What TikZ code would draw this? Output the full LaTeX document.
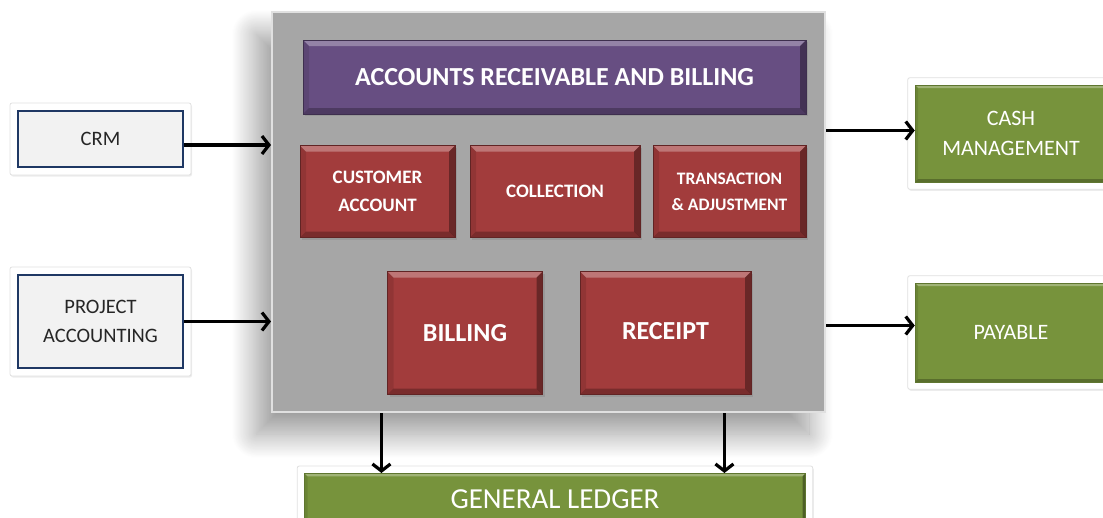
\documentclass[tikz,border=0pt]{standalone}
\usepackage{fontspec}
\setmainfont{Carlito}
\usetikzlibrary{arrows.meta,shadows,shadows.blur,calc}
\pgfdeclarelayer{background}
\pgfsetlayers{background,main}

\definecolor{panelgray}{RGB}{166,166,166}
\definecolor{arbpurple}{RGB}{103,78,130}
\definecolor{modred}{RGB}{162,60,60}
\definecolor{extgreen}{RGB}{119,147,60}
\definecolor{inblue}{RGB}{31,56,100}
\definecolor{inwhite}{RGB}{242,242,242}
\definecolor{txtgray}{RGB}{38,38,38}

\tikzset{
  bevel/.style={path picture={
    \path (path picture bounding box.north west) coordinate (bnw)
          (path picture bounding box.north east) coordinate (bne)
          (path picture bounding box.south west) coordinate (bsw)
          (path picture bounding box.south east) coordinate (bse);
    \fill[white,opacity=.3] (bnw) -- (bne) -- ([xshift=-#1,yshift=-#1]bne) -- ([xshift=#1,yshift=-#1]bnw) -- cycle;
    \fill[black,opacity=.35] (bne) -- (bse) -- ([xshift=-#1,yshift=#1]bse) -- ([xshift=-#1,yshift=-#1]bne) -- cycle;
    \fill[black,opacity=.25] (bsw) -- (bse) -- ([xshift=-#1,yshift=#1]bse) -- ([xshift=#1,yshift=#1]bsw) -- cycle;
    \fill[black,opacity=.1] (bnw) -- (bsw) -- ([xshift=#1,yshift=#1]bsw) -- ([xshift=#1,yshift=-#1]bnw) -- cycle;
  }},
  bevel/.default=6pt,
  module/.style={fill=modred, draw=modred!60!black, line width=.5pt, bevel,
    drop shadow={shadow xshift=2pt,shadow yshift=-2pt,opacity=.35},
    text=white, align=center, inner sep=0pt},
  extbox/.style={fill=extgreen, draw=extgreen!80!black, line width=.5pt, bevel=3pt,
    text=white, align=center, inner sep=0pt, font=\fontsize{22}{30}\selectfont},
  inbox/.style={fill=inwhite, draw=inblue, line width=2pt, text=txtgray,
    align=center, inner sep=0pt, font=\fontsize{20.5}{29}\selectfont},
  frame/.style={draw=black!12, fill=white, rounded corners=2pt, line width=.8pt,
    drop shadow={shadow xshift=1pt,shadow yshift=-1.5pt,opacity=.15}},
  flow/.style={line width=3.2pt, -{Straight Barb[length=7pt,width=18pt]}}
}

\begin{document}
\begin{tikzpicture}[x=1pt,y=-1pt]
\useasboundingbox (0,0) rectangle (1103,517);

% main block
\node[fill=panelgray, draw=black!12, line width=2pt, minimum width=553pt, minimum height=400pt,
  blur shadow={shadow xshift=-16pt,shadow yshift=-22pt,shadow blur radius=24pt,
    shadow blur steps=30,shadow opacity=40}]
  (panel) at (548.5,212) {};
\node[fill=arbpurple, draw=arbpurple!60!black, line width=.5pt, bevel=6pt, text=white,
  minimum width=503pt, minimum height=74pt, inner sep=0pt,
  drop shadow={shadow xshift=2pt,shadow yshift=-2pt,opacity=.35},
  font=\bfseries\fontsize{26}{30}\selectfont]
  (arb) at (554.5,77) {ACCOUNTS RECEIVABLE AND BILLING};

% modules
\node[module, minimum width=155pt, minimum height=92pt, font=\bfseries\fontsize{19}{28}\selectfont]
  (cust) at (377.5,191.5) {CUSTOMER\\ACCOUNT};
\node[module, minimum width=170pt, minimum height=92pt, font=\bfseries\fontsize{19}{28}\selectfont]
  (coll) at (555,191.5) {COLLECTION};
\node[module, minimum width=153pt, minimum height=92pt, font=\bfseries\fontsize{17.5}{26}\selectfont]
  (trans) at (729.5,191.5) {TRANSACTION\\\& ADJUSTMENT};
\node[module, minimum width=155pt, minimum height=123pt, font=\bfseries\fontsize{26}{30}\selectfont]
  (bill) at (465,333) {BILLING};
\node[module, minimum width=171pt, minimum height=123pt, font=\bfseries\fontsize{26}{30}\selectfont]
  (rcpt) at (665.5,333) {\raisebox{5pt}{RECEIPT}};

% inputs and outputs
\node[inbox, minimum width=165pt, minimum height=56pt] (crm) at (100.5,139) {CRM};
\node[inbox, minimum width=165pt, minimum height=93pt] (proj) at (100.5,321.5) {PROJECT\\ACCOUNTING};
\node[extbox, minimum width=192pt, minimum height=97pt] (cash) at (1011,133.5) {CASH\\MANAGEMENT};
\node[extbox, minimum width=192pt, minimum height=99pt] (pay) at (1011,332.5) {PAYABLE};
\node[extbox, anchor=north, minimum width=501pt, minimum height=52pt,
  font=\fontsize{29}{32}\selectfont] (gl) at (555,473) {GENERAL LEDGER};

\begin{pgfonlayer}{background}
\foreach \n in {crm,proj,cash,pay,gl}
  \draw[frame] ([xshift=-7pt,yshift=7pt]\n.north west) rectangle ([xshift=7pt,yshift=-7pt]\n.south east);
\end{pgfonlayer}

% connectors
\draw[flow] ([yshift=-6pt]crm.east) -- ([yshift=-6pt]crm.east -| panel.west);
\draw[flow] (proj.east) -- (proj.east -| panel.west);
\draw[flow] ([yshift=3pt]cash.west -| panel.east) -- ([yshift=3pt]cash.west);
\draw[flow] ([yshift=7pt]pay.west -| panel.east) -- ([yshift=7pt]pay.west);
\coordinate (outL) at ($(panel.south west)!.199!(panel.south east)$);
\coordinate (outR) at ($(panel.south west)!.817!(panel.south east)$);
\draw[flow] (outL) -- (outL |- gl.north);
\draw[flow] (outR) -- (outR |- gl.north);
\end{tikzpicture}
\end{document}
